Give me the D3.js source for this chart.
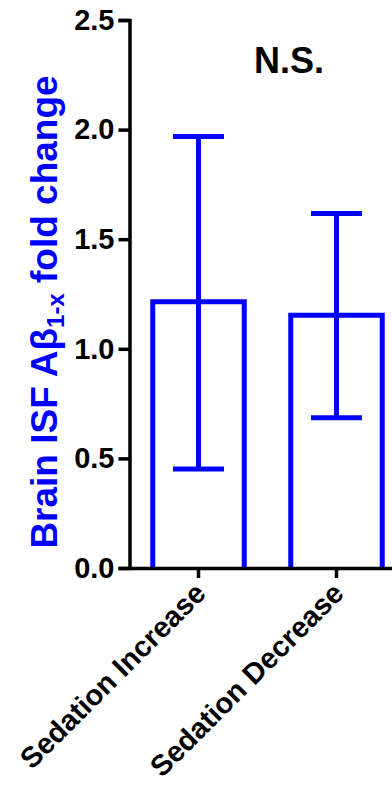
<!DOCTYPE html>
<html>
<head>
<meta charset="utf-8">
<script src="https://cdn.jsdelivr.net/npm/d3@7"></script>
<style>
  html, body { margin: 0; padding: 0; background: #fff; }
  svg { display: block; }
  text { font-family: "Liberation Sans", Arial, sans-serif; font-weight: bold; }
</style>
</head>
<body>
<svg id="chart" width="392" height="789"></svg>
<script>
// Group names, means and error-bar limits
const categories = ["Sedation Increase", "Sedation Decrease"];
const means = [1.215, 1.153];
const errLow = [0.452, 0.686];
const errHigh = [1.968, 1.617];
const yTicks = [0.0, 0.5, 1.0, 1.5, 2.0, 2.5];
const annotation = "N.S.";

const blue = "#0000ff";
const fontFamily = "'Liberation Sans', Arial, sans-serif";
const svg = d3.select("#chart");

const y = d3.scaleLinear().domain([0, 2.5]).range([568, 20]);
const x = d3.scaleBand()
  .domain(categories)
  .range([129.5, 405.5])
  .paddingInner(0.337)
  .paddingOuter(0.1685);

// Bars drawn as open outlines (left, top, right) standing on the axis
svg.selectAll("path.bar")
  .data(categories)
  .join("path")
  .attr("class", "bar")
  .attr("d", (d, i) => {
    const x0 = x(d), x1 = x(d) + x.bandwidth();
    return `M${x0},${y(0)}V${y(means[i])}H${x1}V${y(0)}`;
  })
  .attr("fill", "none")
  .attr("stroke", blue)
  .attr("stroke-width", 5)
  .attr("stroke-linejoin", "miter");

// Error bars
const capHalf = 25.5;
const eb = svg.selectAll("g.err").data(categories).join("g").attr("class", "err");
eb.append("line")
  .attr("x1", d => x(d) + x.bandwidth() / 2)
  .attr("x2", d => x(d) + x.bandwidth() / 2)
  .attr("y1", (d, i) => y(errHigh[i]))
  .attr("y2", (d, i) => y(errLow[i]))
  .attr("stroke", blue).attr("stroke-width", 5);
eb.append("line")
  .attr("x1", d => x(d) + x.bandwidth() / 2 - capHalf)
  .attr("x2", d => x(d) + x.bandwidth() / 2 + capHalf)
  .attr("y1", (d, i) => y(errHigh[i]))
  .attr("y2", (d, i) => y(errHigh[i]))
  .attr("stroke", blue).attr("stroke-width", 5);
eb.append("line")
  .attr("x1", d => x(d) + x.bandwidth() / 2 - capHalf)
  .attr("x2", d => x(d) + x.bandwidth() / 2 + capHalf)
  .attr("y1", (d, i) => y(errLow[i]))
  .attr("y2", (d, i) => y(errLow[i]))
  .attr("stroke", blue).attr("stroke-width", 5);

// Y axis
const yAxis = svg.append("g")
  .attr("transform", "translate(129.5,0)")
  .call(d3.axisLeft(y).tickValues(yTicks).tickFormat(d3.format(".1f")).tickSize(11).tickSizeOuter(11).tickPadding(4));
yAxis.select(".domain").attr("stroke", "#000").attr("stroke-width", 3.5);
yAxis.selectAll(".tick line").attr("stroke", "#000").attr("stroke-width", 3.5);
yAxis.selectAll(".tick text")
  .attr("fill", "#000")
  .style("font-size", "29px")
  .style("font-family", fontFamily)
  .style("font-weight", "bold");

// X axis
const xAxis = svg.append("g")
  .attr("transform", "translate(0,568)")
  .call(d3.axisBottom(x).tickSize(10).tickSizeOuter(0));
xAxis.select(".domain").attr("stroke", "#000").attr("stroke-width", 3.5);
xAxis.selectAll(".tick line").attr("stroke", "#000").attr("stroke-width", 3.5);
xAxis.selectAll(".tick text")
  .attr("fill", "#000")
  .attr("text-anchor", "end")
  .attr("dy", null)
  .attr("y", null)
  .attr("transform", "translate(9,27) rotate(-45)")
  .style("font-size", "29px")
  .style("font-family", fontFamily)
  .style("font-weight", "bold");

// Y axis title with subscript
const title = svg.append("text")
  .attr("transform", "translate(57,312) rotate(-90)")
  .attr("text-anchor", "middle")
  .attr("fill", blue)
  .style("font-size", "37px");
title.append("tspan").text("Brain ISF A\u03b2");
title.append("tspan").text("1-x").attr("dy", 7).style("font-size", "24px");
title.append("tspan").text(" fold change").attr("dy", -7);

// Significance annotation
svg.append("text")
  .attr("x", 289)
  .attr("y", 73)
  .attr("text-anchor", "middle")
  .attr("fill", "#000")
  .style("font-size", "36px")
  .text(annotation);
</script>
</body>
</html>
